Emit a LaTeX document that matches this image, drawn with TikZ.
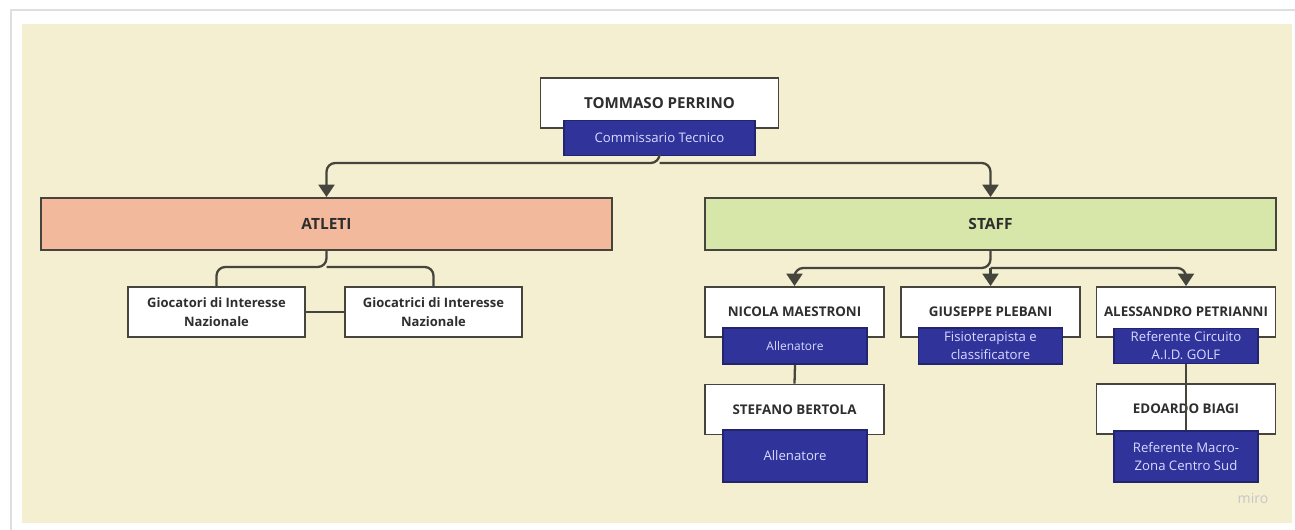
\documentclass[tikz,border=0pt]{standalone}
\usepackage{fontspec}
\setmainfont{Open Sans}
\usetikzlibrary{arrows.meta}
\definecolor{cream}{HTML}{F4EFD0}
\definecolor{salmon}{HTML}{F2B99C}
\definecolor{leaf}{HTML}{D6E7A9}
\definecolor{navy}{HTML}{30339A}
\definecolor{edge}{HTML}{45453D}
\definecolor{ink}{HTML}{2E2E2E}
\definecolor{pale}{HTML}{D8DBFF}
\tikzset{
  box/.style={draw=edge,line width=1.1pt,inner sep=0pt,align=center,text=ink},
  person/.style={box,fill=white,minimum width=3.58cm,minimum height=1cm,
    font=\bfseries\fontsize{7.6}{10.5}\selectfont},
  group/.style={box,fill=#1,minimum width=11.42cm,minimum height=1.04cm,
    font=\bfseries\fontsize{8.8}{10}\selectfont},
  role/.style={box,draw=navy!70!black,fill=navy,text=pale,minimum width=2.88cm,
    minimum height=#1,font=\fontsize{7.5}{10.3}\selectfont},
  conn/.style={draw=edge,line width=1.3pt,rounded corners=5pt},
  arr/.style={conn,-{Triangle[width=9pt,length=7pt]}}
}
\begin{document}
\begin{tikzpicture}[x=0.02cm,y=-0.02cm]
  \useasboundingbox (0,0) rectangle (1295,530);
  \fill[white] (0,0) rectangle (1295,530);
  \draw[gray!25,line width=1pt] (11,530) -- (11,10) -- (1295,10);
  \fill[cream] (22,24) rectangle (1292,523);

  \node[person,minimum width=4.76cm,font=\bfseries\fontsize{8.6}{10}\selectfont] (tp) at (659.5,103) {TOMMASO PERRINO};
  \node[role=0.7cm,minimum width=3.82cm] (tpr) at (659.5,138) {Commissario Tecnico};

  \node[group=salmon] (atleti) at (326.5,224) {ATLETI};
  \node[group=leaf] (staff) at (990.5,224) {STAFF};

  \node[person,minimum width=3.54cm,font=\bfseries\fontsize{7.4}{10.8}\selectfont] (gi1) at (216.5,312) {Giocatori di Interesse\\Nazionale};
  \node[person,minimum width=3.54cm,font=\bfseries\fontsize{7.4}{10.8}\selectfont] (gi2) at (433.5,312) {Giocatrici di Interesse\\Nazionale};

  \node[person] (nm) at (794.5,312) {NICOLA MAESTRONI};
  \node[person] (gp) at (990.5,312) {GIUSEPPE PLEBANI};
  \node[person] (ap) at (1186,312) {ALESSANDRO PETRIANNI};
  \node[person] (sb) at (794.5,409.5) {STEFANO BERTOLA};
  \node[person] (eb) at (1186,409) {EDOARDO BIAGI};

  \node[role=0.72cm,font=\fontsize{6.8}{9}\selectfont] (nmr) at (795,346) {Allenatore};
  \node[role=0.72cm] (gpr) at (990.5,346) {Fisioterapista e\\classificatore};
  \node[role=0.7cm] (apr) at (1186,346) {Referente Circuito\\A.I.D. GOLF};
  \node[role=1.04cm] (sbr) at (795,456) {Allenatore};
  \node[role=1.02cm] (ebr) at (1186,456.5) {Referente Macro-\\Zona Centro Sud};

  \coordinate (topbus) at (659.5,163);
  \coordinate (abus) at (326.5,267);
  \coordinate (sbus) at (990.5,268);

  \draw[arr] (tpr.south) -- (topbus) -| (atleti.north);
  \draw[arr] (topbus) -| (staff.north);

  \draw[conn] (atleti.south) -- (abus) -| (gi1.north);
  \draw[conn] (abus) -| (gi2.north);
  \draw[conn] (gi1.east) -- (gi2.west);

  \draw[arr] (staff.south) -- (sbus) -| (nm.north);
  \draw[arr] (sbus) -| (ap.north);
  \draw[arr] (sbus) -- (gp.north);

  \draw[conn] (nmr.south) -- (sb.north);
  \draw[conn] (apr.south) -- (ebr.north);

  \node[text=gray!45,font=\fontsize{8}{8}\selectfont] (miro) at (1253,498) {miro};
\end{tikzpicture}
\end{document}
